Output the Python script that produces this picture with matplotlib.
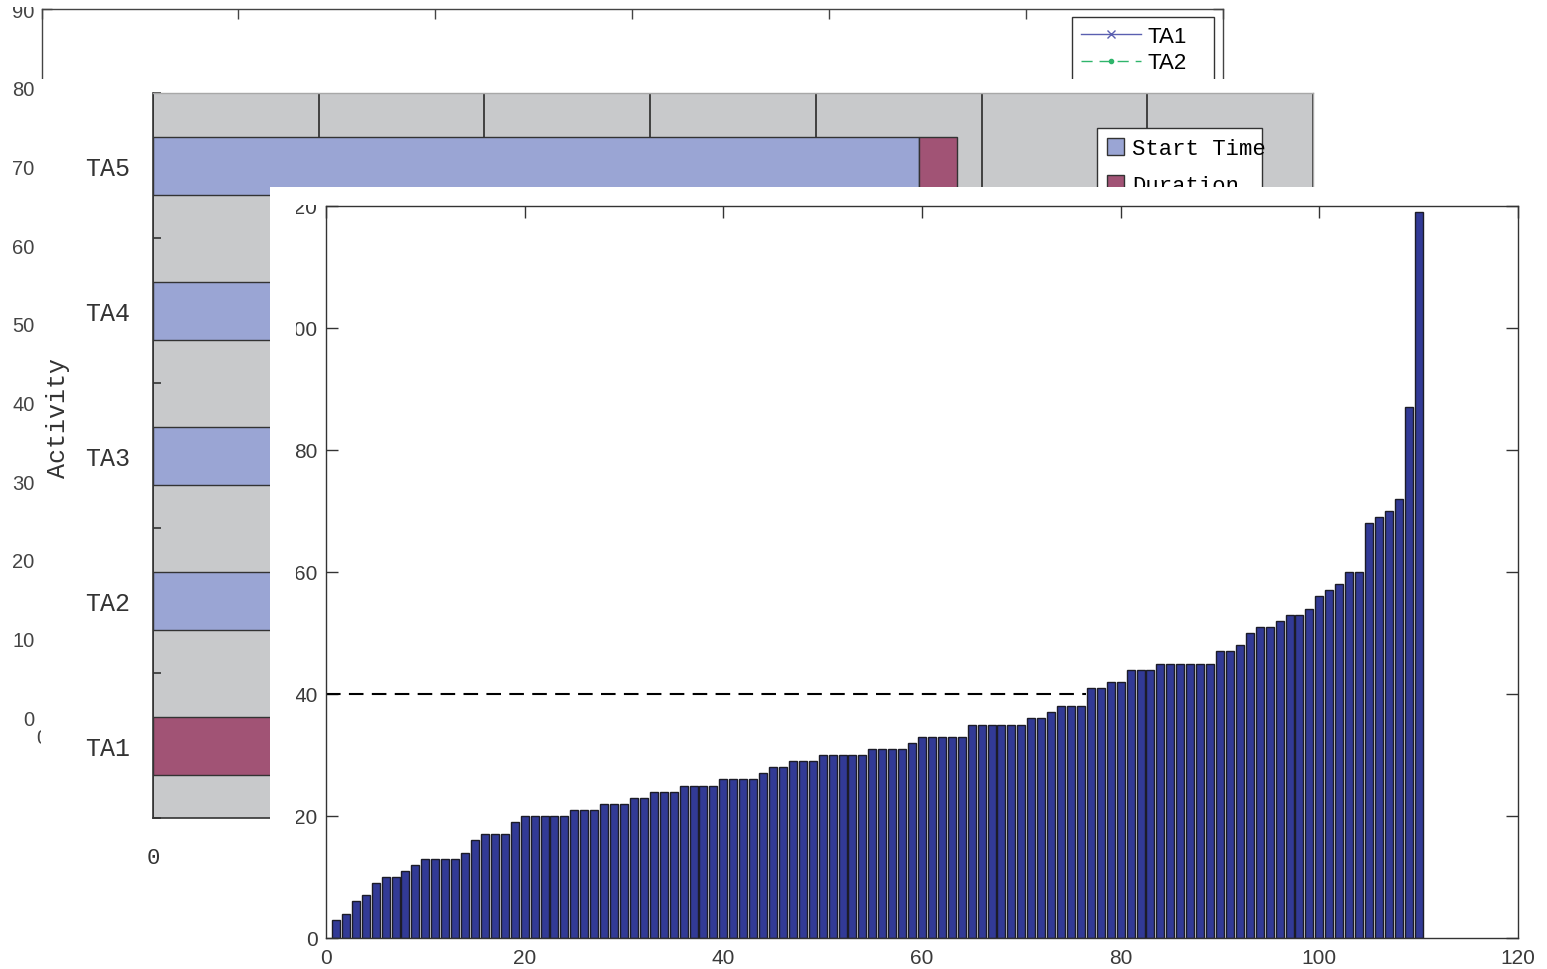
import matplotlib
matplotlib.use("Agg")
import numpy as np
import matplotlib.pyplot as plt
from matplotlib.patches import Rectangle
from matplotlib.transforms import Bbox, TransformedBbox

plt.rcParams['font.family'] = ['Liberation Sans', 'DejaVu Sans']

# ---------------- data ----------------
# back figure: line chart (mostly hidden)
line_x = [0, 10, 20, 30, 40, 50, 60]
line_names = ['TA1', 'TA2', 'TA3']
line_TA1 = [5, 12, 20, 28, 35, 42, 50]
line_TA2 = [8, 15, 22, 30, 38, 45, 55]
line_TA3 = [10, 18, 26, 34, 43, 52, 60]

# middle figure: Gantt chart
activities = ['TA1', 'TA2', 'TA3', 'TA4', 'TA5']
start_time = [0, 12, 24, 35, 46.2]
duration = [10, 8, 9, 7, 2.3]

# front figure: sorted bar chart
bar_values = [3, 4, 6, 7, 9, 10, 10, 11, 12, 13,
              13, 13, 13, 14, 16, 17, 17, 17, 19, 20,
              20, 20, 20, 20, 21, 21, 21, 22, 22, 22,
              23, 23, 24, 24, 24, 25, 25, 25, 25, 26,
              26, 26, 26, 27, 28, 28, 29, 29, 29, 30,
              30, 30, 30, 30, 31, 31, 31, 31, 32, 33,
              33, 33, 33, 33, 35, 35, 35, 35, 35, 35,
              36, 36, 37, 38, 38, 38, 41, 41, 42, 42,
              44, 44, 44, 45, 45, 45, 45, 45, 45, 47,
              47, 48, 50, 51, 51, 52, 53, 53, 54, 56,
              57, 58, 60, 60, 68, 69, 70, 72, 87, 119]
threshold = 40
threshold_end = 76.5
bar_ticks = [0, 20, 40, 60, 80, 100, 120]

# ---------------- layout ----------------
W, H = 1547, 970
fig = plt.figure(figsize=(W / 100, H / 100), dpi=100)
fig.patch.set_facecolor('white')


def frac(x0, y0, x1, y1):
    return [x0 / W, 1 - y1 / H, (x1 - x0) / W, (y1 - y0) / H]


# ---------- figure 1 (back) ----------
A1 = (41.5, 10, 1223, 718)
ax1 = fig.add_axes(frac(*A1), zorder=1)
line_series = [line_TA1, line_TA2, line_TA3]
line_colors = ['#5a5fb0', '#2fb56b', '#f08a8a']
line_styles = ['-', (0, (8, 5)), ':']
line_markers = ['x', '.', '+']
for name, vals, c, ls, mk in zip(line_names, line_series, line_colors, line_styles, line_markers):
    ax1.plot(line_x, vals, color=c, ls=ls, marker=mk, lw=1, ms=6, label=name)
ax1.set_xlim(0, 60)
ax1.set_ylim(0, 90)
ax1.set_xticks(range(0, 61, 10))
ax1.set_yticks(range(0, 91, 10))
ax1.tick_params(direction='in', length=7, width=1, top=True, right=True,
                labelsize=14.5, labelcolor='#444444', color='#444444')
ax1.tick_params(axis='y', pad=5)
ax1.tick_params(axis='x', pad=8)
for s in ax1.spines.values():
    s.set_color('#444444')
    s.set_linewidth(1)
aw1, ah1 = A1[2] - A1[0], A1[3] - A1[1]
lx0 = (1072 - A1[0]) / aw1
lw1 = (1214 - 1072) / aw1
ltop = 1 - (18 - A1[1]) / ah1
leg1 = ax1.legend(loc='upper left', bbox_to_anchor=(lx0, ltop - 0.3, lw1, 0.3),
                  mode='expand', fontsize=16, fancybox=False, edgecolor='#333333',
                  framealpha=1, labelspacing=0.25, handlelength=2.7,
                  handletextpad=0.3, borderpad=0.4, borderaxespad=0, numpoints=1)
leg1.get_frame().set_linewidth(1)
clip1 = TransformedBbox(Bbox.from_extents(0, 0, 1, 1 - 8 / H), fig.transFigure)
for t in ax1.yaxis.get_major_ticks():
    t.label1.set_clip_box(clip1)
    t.label1.set_clip_on(True)

# panel of figure 2
fig.add_artist(Rectangle((41 / W, 0), 1 - 41 / W, 1 - 80 / H, transform=fig.transFigure,
                         facecolor='white', edgecolor='none', zorder=2))

# ---------- figure 2 (middle, Gantt) ----------
mono = 'Liberation Mono'
A2 = (153, 94, 1313, 819)
ax2 = fig.add_axes(frac(*A2), zorder=3)
ax2.set_facecolor('#c8c9cb')
ypos = np.arange(len(activities)) + 0.5
ax2.barh(ypos, start_time, height=0.4, color='#9aa5d4', edgecolor='#333333',
         lw=1, label='Start Time', zorder=2)
ax2.barh(ypos, duration, left=start_time, height=0.4, color='#a15375',
         edgecolor='#333333', lw=1, label='Duration', zorder=2)
ax2.set_xlim(0, 70)
ax2.set_ylim(0, 5)
ax2.set_xticks(range(0, 71, 10))
ax2.set_xticklabels([str(v) for v in range(0, 71, 10)], fontfamily=mono, fontsize=16,
                    color='#333333')
ax2.tick_params(axis='x', length=0, pad=21)
ax2.grid(axis='x', color='#2a2a2a', lw=1.2)
ax2.set_axisbelow(True)
ax2.set_yticks(range(0, 6))
ax2.set_yticklabels([])
ax2.set_yticks(ypos, minor=True)
ax2.set_yticklabels(activities, minor=True, fontfamily=mono, fontsize=18, color='#333333')
ax2.tick_params(axis='y', which='minor', length=0, pad=16.5)
ax2.tick_params(axis='y', which='major', direction='in', length=6, width=1.2, color='#333333')
for side in ['left', 'bottom']:
    ax2.spines[side].set_color('#333333')
    ax2.spines[side].set_linewidth(1.2)
for side in ['top', 'right']:
    ax2.spines[side].set_color('#a8a8a8')
    ax2.spines[side].set_linewidth(1)
ax2.set_ylabel('Activity', fontfamily=mono, fontsize=18, color='#333333')
ax2.yaxis.label.set_va('center')
ax2.yaxis.set_label_coords((58 - 153) / 1160, (819 - 418) / 725)
aw2, ah2 = A2[2] - A2[0], A2[3] - A2[1]
gx0 = (1097 - A2[0]) / aw2
gw = (1262 - 1097) / aw2
gtop = 1 - (129 - A2[1]) / ah2
leg2 = ax2.legend(loc='upper left', bbox_to_anchor=(gx0, gtop - 0.3, gw, 0.3),
                  mode='expand', prop={'family': mono, 'size': 16}, fancybox=False,
                  edgecolor='#333333', framealpha=1, handlelength=0.77,
                  handleheight=0.77, handletextpad=0.35, borderpad=0.45,
                  labelspacing=0.72, borderaxespad=0)
leg2.get_frame().set_linewidth(1)

# panel of figure 3
fig.add_artist(Rectangle((270 / W, 0), 1 - 270 / W, 1 - 188 / H, transform=fig.transFigure,
                         facecolor='white', edgecolor='none', zorder=4))

# ---------- figure 3 (front, bars) ----------
ax3 = fig.add_axes(frac(326, 207, 1518, 939), zorder=5)
bar_x = np.arange(1, len(bar_values) + 1)
ax3.bar(bar_x, bar_values, width=0.8, color='#323a96', edgecolor='#1c1c28', lw=1)
ax3.plot([0, threshold_end], [threshold, threshold], color='black', lw=1.5,
         ls=(0, (7, 4)))
ax3.set_xlim(0, 120)
ax3.set_ylim(0, 120)
ax3.set_xticks(bar_ticks)
ax3.set_yticks(bar_ticks)
ax3.tick_params(direction='in', length=8.5, width=1, top=True, right=True,
                labelsize=15, labelcolor='#3a3a3a', color='#333333')
ax3.tick_params(axis='x', bottom=False, labelbottom=True, pad=7)
ax3.tick_params(axis='y', pad=6)
for s in ax3.spines.values():
    s.set_color('#333333')
    s.set_linewidth(1)
clip3 = TransformedBbox(Bbox.from_extents(296 / W, 0, 1, 1 - 206 / H), fig.transFigure)
for t in ax3.yaxis.get_major_ticks():
    t.label1.set_clip_box(clip3)
    t.label1.set_clip_on(True)

fig.savefig('out.png', dpi=100, facecolor='white')
